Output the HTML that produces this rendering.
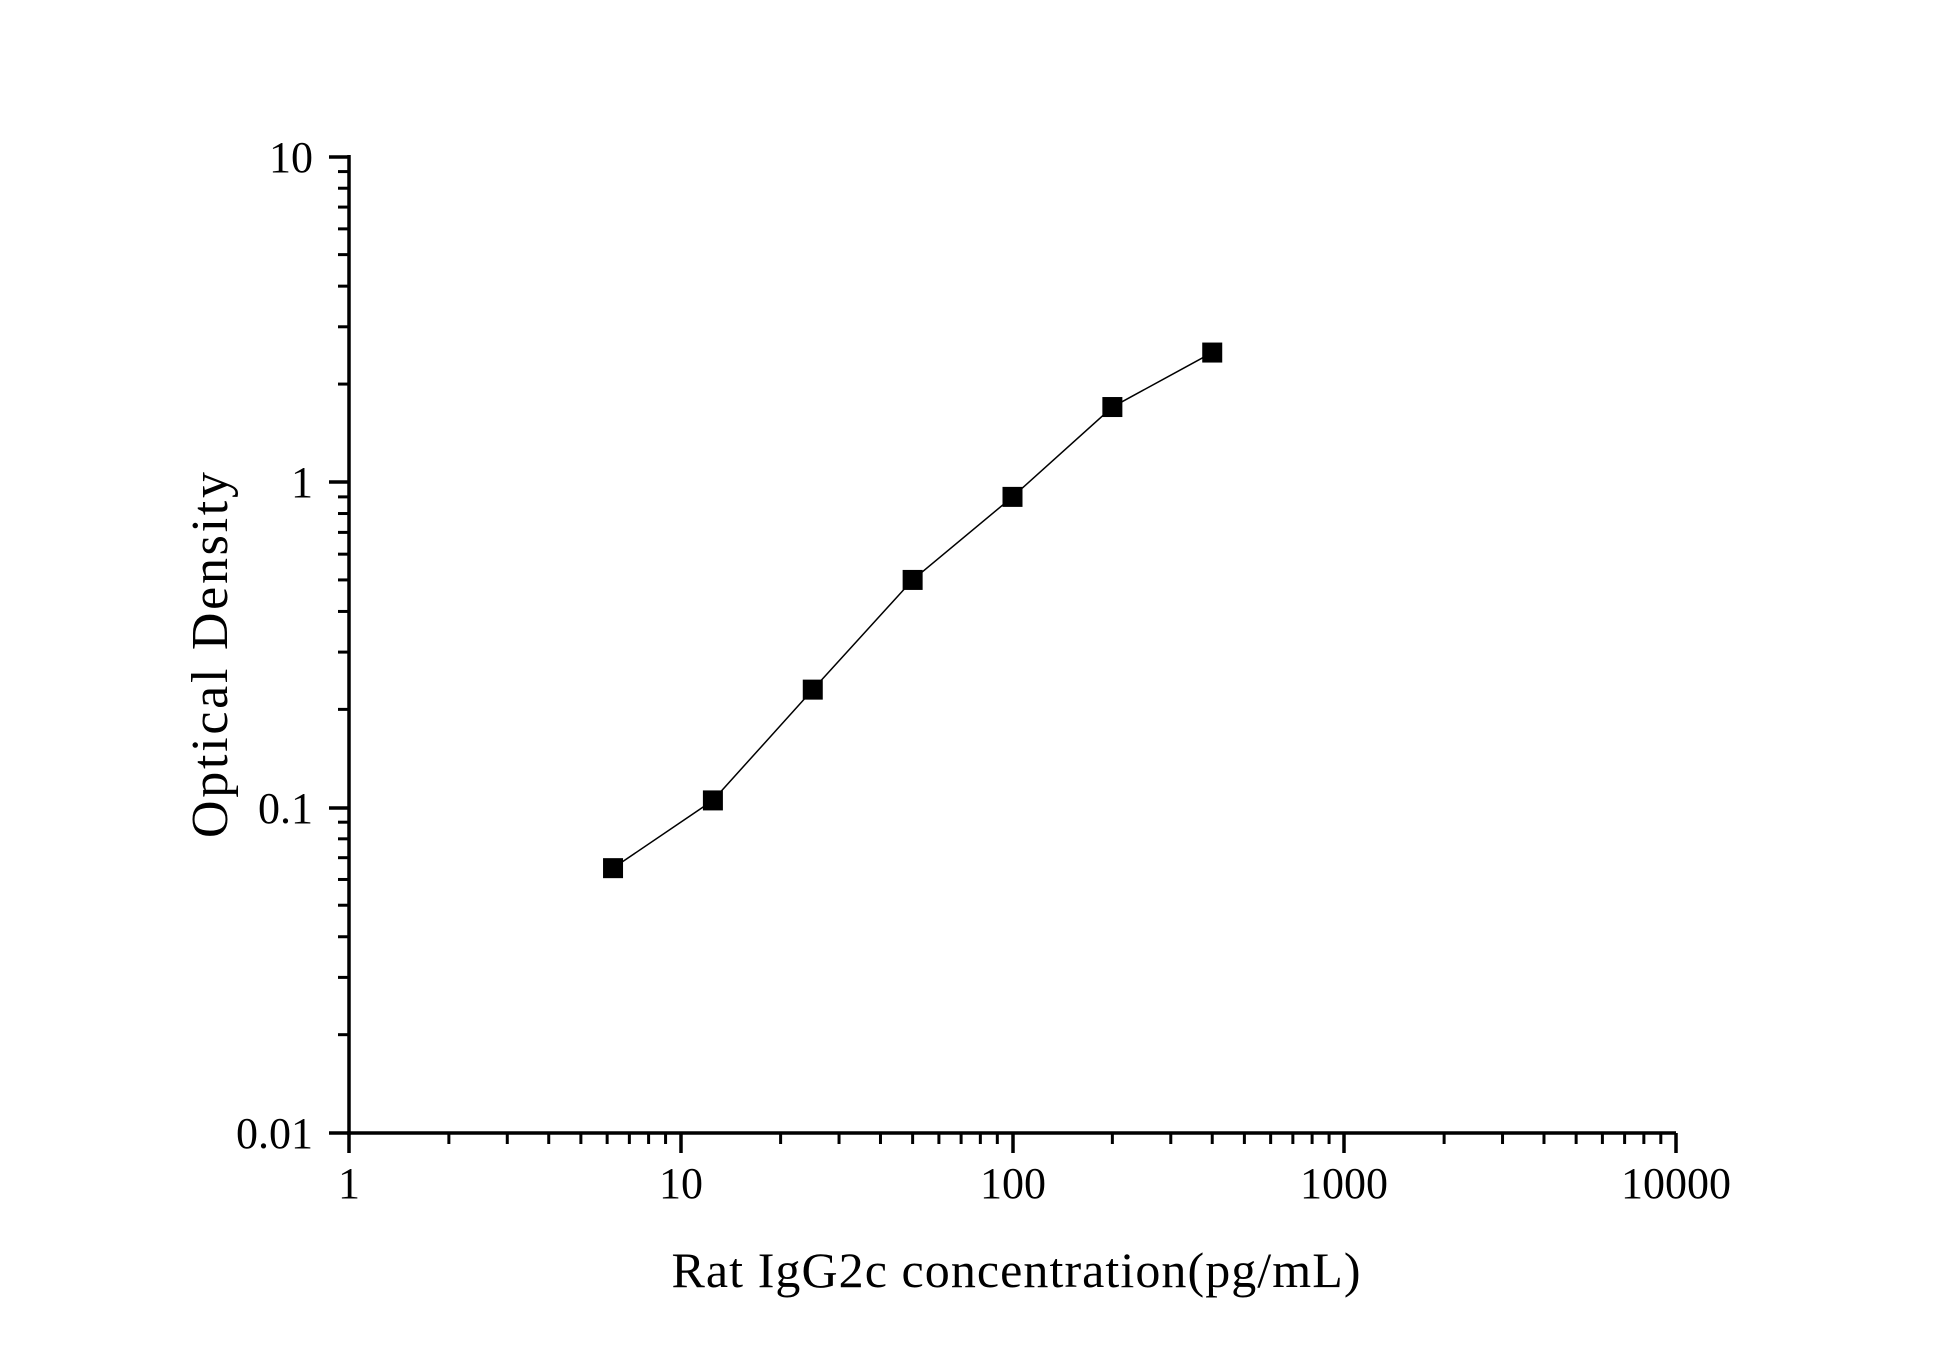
<!DOCTYPE html>
<html><head><style>body{margin:0;background:#fff}svg{display:block}</style></head>
<body>
<svg id="svg" width="1946" height="1359" xmlns="http://www.w3.org/2000/svg" font-family="Liberation Serif, serif">
<rect width="1946" height="1359" fill="#fff"/>
<g stroke="#000" stroke-width="3.5" fill="none">
<line x1="349" y1="155" x2="349" y2="1135"/>
<line x1="347" y1="1133" x2="1676" y2="1133"/>
<line x1="1676" y1="1133" x2="1676" y2="1153"/>
<line x1="349" y1="1133" x2="349" y2="1153"/>
<line x1="681" y1="1133" x2="681" y2="1153"/>
<line x1="1013" y1="1133" x2="1013" y2="1153"/>
<line x1="1344" y1="1133" x2="1344" y2="1153"/>
<line x1="329" y1="157" x2="349" y2="157"/>
<line x1="329" y1="482" x2="349" y2="482"/>
<line x1="329" y1="808" x2="349" y2="808"/>
<line x1="329" y1="1133" x2="349" y2="1133"/>
</g>
<g id="ticks" stroke="#000" stroke-width="3"></g>
<polyline id="curve" fill="none" stroke="#000" stroke-width="1.5"/>
<g id="pts" fill="#000"></g>
<g font-size="44" fill="#000">
<text x="313" y="172" text-anchor="end">10</text>
<text x="313" y="497" text-anchor="end">1</text>
<text x="313" y="823" text-anchor="end">0.1</text>
<text x="313" y="1148" text-anchor="end">0.01</text>
<text x="349" y="1198" text-anchor="middle">1</text>
<text x="681" y="1198" text-anchor="middle">10</text>
<text x="1013" y="1198" text-anchor="middle">100</text>
<text x="1344" y="1198" text-anchor="middle">1000</text>
<text x="1676" y="1198" text-anchor="middle">10000</text>
</g>
<text x="1016" y="1287" text-anchor="middle" font-size="50" textLength="689">Rat IgG2c concentration(pg/mL)</text>
<text transform="translate(227,655) rotate(-90)" text-anchor="middle" font-size="52" textLength="366">Optical Density</text>
<script>
var NS="http://www.w3.org/2000/svg";
function el(parent,name,attrs){var e=document.createElementNS(NS,name);for(var k in attrs)e.setAttribute(k,attrs[k]);parent.appendChild(e);}
var X=function(v){return 349+Math.log10(v)*331.75},Y=function(v){return 482-Math.log10(v)*325.3};
var t=document.getElementById('ticks');
for(var d=0;d<4;d++)for(var m=2;m<10;m++){var x=X(m*Math.pow(10,d));el(t,'line',{x1:x,y1:1133,x2:x,y2:1144});}
for(var d=-2;d<1;d++)for(var m=2;m<10;m++){var y=Y(m*Math.pow(10,d));el(t,'line',{x1:338,y1:y,x2:349,y2:y});}
var xs=[6.25,12.5,25,50,100,200,400],ys=[0.065,0.105,0.23,0.5,0.9,1.7,2.5],p='',g=document.getElementById('pts');
for(var i=0;i<7;i++){var a=X(xs[i]),b=Y(ys[i]);p+=a+','+b+' ';el(g,'rect',{x:a-10,y:b-10,width:20,height:20});}
document.getElementById('curve').setAttribute('points',p);
</script>
</svg>
</body></html>
